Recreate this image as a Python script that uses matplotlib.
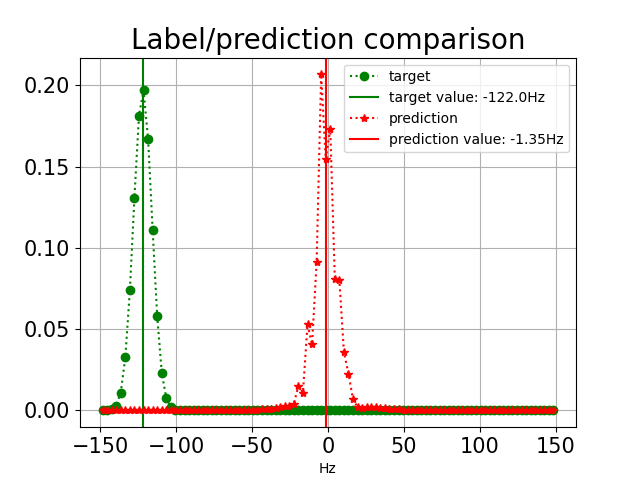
import numpy as np
import matplotlib
matplotlib.use("Agg")
import matplotlib.pyplot as plt

# frequency grid (Hz), 100 bins
freqs = np.linspace(-148.5, 148.5, 100)

target = [
    0.0001, 0.0003, 0.0008, 0.003, 0.011, 0.0326, 0.074, 0.131, 0.1815, 0.197,
    0.167, 0.111, 0.058, 0.0232, 0.0074, 0.002, 0.0005, 0.0001, 0.0, 0.0,
    0.0, 0.0, 0.0, 0.0, 0.0, 0.0, 0.0, 0.0, 0.0, 0.0,
    0.0, 0.0, 0.0, 0.0, 0.0, 0.0, 0.0, 0.0, 0.0, 0.0,
    0.0, 0.0, 0.0, 0.0, 0.0, 0.0, 0.0, 0.0, 0.0, 0.0,
    0.0, 0.0, 0.0, 0.0, 0.0, 0.0, 0.0, 0.0, 0.0, 0.0,
    0.0, 0.0, 0.0, 0.0, 0.0, 0.0, 0.0, 0.0, 0.0, 0.0,
    0.0, 0.0, 0.0, 0.0, 0.0, 0.0, 0.0, 0.0, 0.0, 0.0,
    0.0, 0.0, 0.0, 0.0, 0.0, 0.0, 0.0, 0.0, 0.0, 0.0,
    0.0, 0.0, 0.0, 0.0, 0.0, 0.0, 0.0, 0.0, 0.0, 0.0,
]

prediction = [
    0.0002, 0.0002, 0.0002, 0.0002, 0.0002, 0.0002, 0.0002, 0.0002, 0.0002, 0.0002,
    0.0002, 0.0002, 0.0002, 0.0002, 0.0002, 0.0002, 0.0002, 0.0002, 0.0002, 0.0002,
    0.0002, 0.0002, 0.0002, 0.0002, 0.0003, 0.0003, 0.0003, 0.0003, 0.0003, 0.0003,
    0.0003, 0.0003, 0.0003, 0.0004, 0.0005, 0.0006, 0.0008, 0.001, 0.0015, 0.002,
    0.0025, 0.003, 0.004, 0.015, 0.011, 0.053, 0.0406, 0.0913, 0.2068, 0.1547,
    0.173, 0.081, 0.080, 0.0357, 0.0226, 0.0068, 0.002, 0.0015, 0.002, 0.002,
    0.0018, 0.0015, 0.0012, 0.001, 0.0008, 0.0006, 0.0005, 0.0004, 0.0004, 0.0004,
    0.0003, 0.0003, 0.0003, 0.0003, 0.0003, 0.0003, 0.0003, 0.0003, 0.0003, 0.0003,
    0.0002, 0.0002, 0.0002, 0.0002, 0.0002, 0.0002, 0.0002, 0.0002, 0.0002, 0.0002,
    0.0002, 0.0002, 0.0002, 0.0002, 0.0002, 0.0002, 0.0002, 0.0002, 0.0002, 0.0002,
]

target_value = -122.0
prediction_value = -1.35

fig, ax = plt.subplots(figsize=(6.4, 4.8), dpi=100)
ax.plot(freqs, target, 'go:', label='target')
ax.axvline(target_value, color='g', label=f'target value: {target_value}Hz')
ax.plot(freqs, prediction, 'r*:', label='prediction')
ax.axvline(prediction_value, color='r', label=f'prediction value: {prediction_value}Hz')
ax.set_title('Label/prediction comparison', fontsize=20)
ax.set_xlabel('Hz')
ax.tick_params(axis='both', labelsize=15)
ax.grid(True)
ax.legend(loc='upper right')
fig.savefig('out.png', dpi=100)
